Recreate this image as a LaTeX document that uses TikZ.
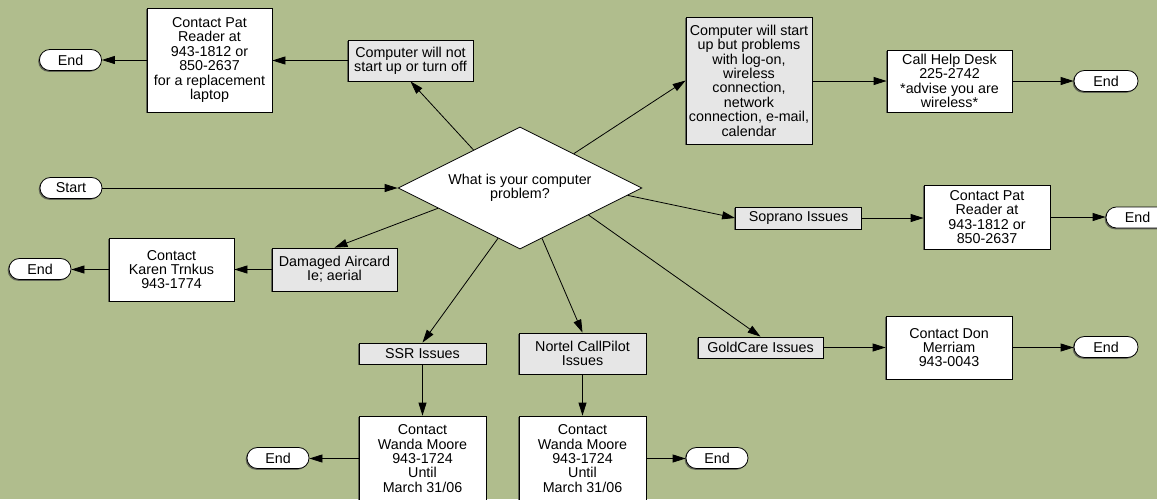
\documentclass[tikz,border=0pt]{standalone}
\usepackage{fontspec}
\setmainfont{Liberation Sans}
\usetikzlibrary{arrows.meta,shapes.geometric,shadows,calc}
\definecolor{bg}{RGB}{176,189,141}
\definecolor{issuefill}{RGB}{230,230,230}
\begin{document}
\begin{tikzpicture}[x=1pt,y=-1pt,
  every node/.style={font=\fontsize{14.3}{14.4}\selectfont, align=center, inner sep=0pt},
  shade box/.style={drop shadow={shadow xshift=-1.3pt, shadow yshift=-1.3pt, opacity=0.7, fill=black!75}},
  box/.style={draw, line width=0.8pt, fill=white, shade box},
  issue/.style={box, fill=issuefill},
  pill/.style={draw, line width=0.8pt, fill=white, shade box, rounded corners=10.4pt,
               minimum width=62pt, minimum height=21pt},
  link/.style={line width=0.8pt, -{Triangle[length=13pt,width=8pt]}}
]
% canvas
\fill[bg] (0,0) rectangle (1157,499);
\useasboundingbox (0,0) rectangle (1157,499);
\clip (0,0) rectangle (1157,499);

% decision
\node[diamond, shape aspect=2, draw, fill=white, line width=0.8pt,
      minimum width=244pt, minimum height=122pt]
  (d) at (520,188) {What is your computer\\problem?};
\node[pill] (start) at (71,188) {Start};

% upper left branch
\node[issue, minimum width=125pt, minimum height=41pt] (notstart) at (410.5,60.5)
  {Computer will not\\start up or turn off};
\node[box, minimum width=125pt, minimum height=104pt] (patA) at (209.5,60)
  {Contact Pat\\Reader at\\943-1812 or\\850-2637\\for a replacement\\laptop};
\node[pill] (endA) at (70.5,60) {End};

% upper right branch
\node[issue, minimum width=126pt, minimum height=127pt] (startup) at (749,80.5)
  {Computer will start\\up but problems\\with log-on,\\wireless\\connection,\\network\\connection, e-mail,\\calendar};
\node[box, minimum width=125pt, minimum height=62pt] (help) at (949.5,81)
  {Call Help Desk\\225-2742\\*advise you are\\wireless*};
\node[pill, minimum width=64pt] (endB) at (1106,81) {End};

% Soprano
\node[issue, minimum width=126pt, minimum height=22pt] (soprano) at (798.5,218) {Soprano Issues};
\node[box, minimum width=126pt, minimum height=64pt] (patB) at (987,217)
  {Contact Pat\\Reader at\\943-1812 or\\850-2637};
\node[pill, minimum width=63pt] (endC) at (1137.5,217.5) {End};

% aircard
\node[issue, minimum width=125pt, minimum height=43pt] (damaged) at (334.5,269.5)
  {Damaged Aircard\\Ie; aerial};
\node[box, minimum width=125pt, minimum height=63pt] (karen) at (171.5,269.5)
  {Contact\\Karen Trnkus\\943-1774};
\node[pill] (endD) at (40,269) {End};

% SSR
\node[issue, minimum width=127pt, minimum height=21pt] (ssr) at (422.5,353.5) {SSR Issues};
\node[box, minimum width=127pt, minimum height=85pt] (wandaA) at (422.5,458.5)
  {Contact\\Wanda Moore\\943-1724\\Until\\March 31/06};
\node[pill] (endE) at (278,458) {End};

% CallPilot
\node[issue, minimum width=127pt, minimum height=41pt] (nortel) at (582.5,353.5)
  {Nortel CallPilot\\Issues};
\node[box, minimum width=127pt, minimum height=85pt] (wandaB) at (582.5,458.5)
  {Contact\\Wanda Moore\\943-1724\\Until\\March 31/06};
\node[pill] (endF) at (717,458) {End};

% GoldCare
\node[issue, minimum width=125pt, minimum height=21pt] (gold) at (760.5,347.5) {GoldCare Issues};
\node[box, minimum width=126pt, minimum height=63pt] (don) at (949,347.5)
  {Contact Don\\Merriam\\943-0043};
\node[pill, minimum width=64pt] (endG) at (1106,347) {End};

% connectors
\draw[link] (start.east) -- (start.east -| d.west);

\draw[link] ($(d.west)!0.62!(d.north)$) -- (notstart.south);
\draw[link] (notstart.west) -- (notstart.west -| patA.east);
\draw[link] (patA.west) -- (patA.west -| endA.east);

\draw[link] ($(d.north)!0.44!(d.east)$) -- (startup.west);
\draw[link] (startup.east |- help.west) -- (help.west);
\draw[link] (help.east) -- (help.east -| endB.west);

\draw[link] ($(d.east)!0.12!(d.south)$) -- (soprano.west);
\draw[link] (soprano.east) -- (soprano.east -| patB.west);
\draw[link] (patB.east) -- (patB.east -| endC.west);

\draw[link] ($(d.west)!0.33!(d.south)$) -- (damaged.north);
\draw[link] (damaged.west) -- (damaged.west -| karen.east);
\draw[link] (karen.west) -- (karen.west -| endD.east);

\draw[link] ($(d.south)!0.18!(d.west)$) -- (ssr.north);
\draw[link] (ssr.south) -- (wandaA.north);
\draw[link] (wandaA.west) -- (wandaA.west -| endE.east);

\draw[link] ($(d.east)!0.82!(d.south)$) -- (nortel.north);
\draw[link] (nortel.south) -- (wandaB.north);
\draw[link] (wandaB.east) -- (wandaB.east -| endF.west);

\draw[link] ($(d.east)!0.44!(d.south)$) -- (gold.north);
\draw[link] (gold.east) -- (gold.east -| don.west);
\draw[link] (don.east) -- (don.east -| endG.west);
\end{tikzpicture}
\end{document}
